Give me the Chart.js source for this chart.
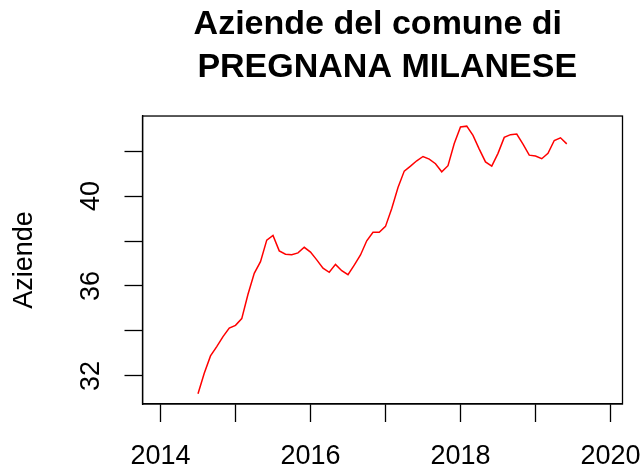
<!DOCTYPE html>
<html>

<head>
  <meta charset="utf-8">
  <title>Aziende del comune di PREGNANA MILANESE</title>
  <script src="https://cdn.jsdelivr.net/npm/chart.js@4.4.0/dist/chart.umd.min.js"></script>
  <style>
    html,
    body {
      margin: 0;
      padding: 0;
      background: #fff;
    }
  </style>
</head>

<body>
  <canvas id="chart" width="644" height="471"></canvas>
  <script>
    // monthly series, first value is July 2014
    var startYear = 2014;
    var startMonth = 7;
    var aziende = [
      31.21, 32.12, 32.89, 33.30, 33.75, 34.13, 34.25, 34.55, 35.63, 36.56, 37.08, 38.04,
      38.25, 37.56, 37.41, 37.39, 37.47, 37.72, 37.51, 37.16, 36.79, 36.61, 36.96, 36.68,
      36.50, 36.93, 37.38, 38.01, 38.39, 38.39, 38.65, 39.45, 40.38, 41.11, 41.33, 41.57,
      41.76, 41.64, 41.44, 41.08, 41.35, 42.34, 43.07, 43.11, 42.70, 42.09, 41.52, 41.33,
      41.90, 42.61, 42.73, 42.76, 42.31, 41.82, 41.78, 41.66, 41.90, 42.47, 42.59, 42.32
    ];
    var xTicks = [2014, 2015, 2016, 2017, 2018, 2019, 2020];
    var xLabels = ['2014', '', '2016', '', '2018', '', '2020'];
    var yTicks = [32, 34, 36, 38, 40, 42];
    var yLabels = ['32', '', '36', '', '40', ''];
    var xLimits = [2013.76, 2020.16];
    var yLimits = [30.75, 43.56];

    var points = aziende.map(function(v, i) {
      return { x: startYear + (startMonth - 1 + i) / 12, y: v };
    });

    var FONT = 'Liberation Sans, Arial, Helvetica, sans-serif';

    // R style box round the plot region
    var boxPlugin = {
      id: 'box',
      afterDraw: function(chart) {
        var a = chart.chartArea, ctx = chart.ctx;
        ctx.save();
        ctx.strokeStyle = '#000';
        ctx.lineWidth = 1.3;
        ctx.strokeRect(a.left, a.top, a.right - a.left, a.bottom - a.top);
        ctx.restore();
      }
    };

    var options = {
      type: 'line',
      data: {
        datasets: [{
          label: 'Aziende',
          data: points,
          borderColor: '#ff0000',
          borderWidth: 1.5,
          pointRadius: 0,
          tension: 0,
          fill: false
        }]
      },
      options: {
        responsive: false,
        animation: false,
        devicePixelRatio: 1,
        layout: { padding: { top: 3, left: 0, right: 21.5, bottom: 0 } },
        plugins: {
          legend: { display: false },
          tooltip: { enabled: false },
          title: {
            display: true,
            fullSize: false,
            text: ['Aziende del comune di ', ' PREGNANA MILANESE'],
            color: '#000',
            font: { family: FONT, size: 34, weight: 'bold', lineHeight: 1.265 },
            padding: { top: 0, bottom: 27 }
          }
        },
        scales: {
          x: {
            type: 'linear',
            min: xLimits[0],
            max: xLimits[1],
            afterBuildTicks: function(s) {
              s.ticks = xTicks.map(function(v) { return { value: v }; });
            },
            afterFit: function(s) {
              s.height = 67;
              s.paddingLeft = 0;
              s.paddingRight = 0;
            },
            grid: { display: true, drawOnChartArea: false, drawTicks: true, tickLength: 18, tickColor: '#000', tickWidth: 1.3 },
            border: { display: true, color: '#000', width: 1.3 },
            ticks: {
              autoSkip: false,
              maxRotation: 0,
              padding: 18,
              color: '#000',
              font: { family: FONT, size: 27 },
              callback: function(v) { return xLabels[xTicks.indexOf(v)]; }
            }
          },
          y: {
            min: yLimits[0],
            max: yLimits[1],
            afterBuildTicks: function(s) {
              s.ticks = yTicks.map(function(v) { return { value: v }; });
            },
            afterFit: function(s) {
              s.width = 142.5;
              s.paddingTop = 0;
              s.paddingBottom = 0;
            },
            grid: { display: true, drawOnChartArea: false, drawTicks: true, tickLength: 18, tickColor: '#000', tickWidth: 1.3 },
            border: { display: true, color: '#000', width: 1.3 },
            ticks: {
              autoSkip: false,
              minRotation: 90,
              maxRotation: 90,
              crossAlign: 'center',
              padding: 18,
              color: '#000',
              font: { family: FONT, size: 27 },
              callback: function(v) { return yLabels[yTicks.indexOf(v)]; }
            },
            title: {
              display: true,
              text: 'Aziende',
              color: '#000',
              font: { family: FONT, size: 27 },
              padding: { top: 8, bottom: 0 }
            }
          }
        }
      },
      plugins: [boxPlugin]
    };

    var ctx = document.getElementById('chart').getContext('2d');
    window.chart = new Chart(ctx, options);
  </script>
</body>

</html>
